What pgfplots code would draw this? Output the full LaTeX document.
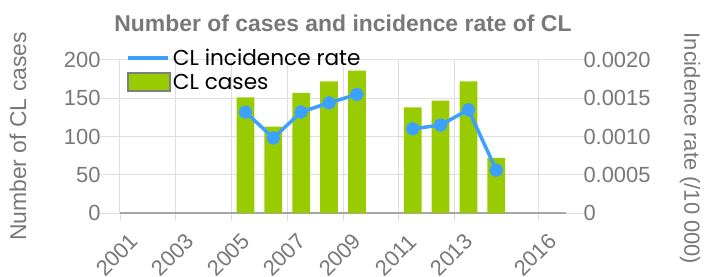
\documentclass[border=0pt]{standalone}
\usepackage{pgfplots}
\pgfplotsset{compat=1.18}
\usepackage{fontspec}
\setmainfont{Liberation Sans}
\newfontfamily\legfont{Poppins}
\definecolor{barg}{RGB}{153,204,0}
\definecolor{lineb}{RGB}{61,160,255}
\definecolor{txt}{RGB}{120,120,120}
\definecolor{gridc}{RGB}{222,222,222}
\begin{document}
\begin{tikzpicture}
\useasboundingbox (-120bp,-64bp) rectangle (597bp,213bp);
% x tick marks (short)
\begin{axis}[
  at={(0,0)}, anchor=south west,
  scale only axis, width=446bp, height=153bp,
  xmin=0, xmax=16, ymin=0, ymax=200,
  axis x line*=bottom, hide y axis,
  x axis line style={draw=none},
  tick align=outside, major tick length=8bp,
  xtick={0,2,4,6,8,10,12,15}, xticklabels={},
  x tick style={draw=gridc, line width=1bp},
]
\end{axis}
\begin{axis}[
  at={(0,0)}, anchor=south west,
  scale only axis, width=446bp, height=153bp,
  xmin=0, xmax=16, ymin=0, ymax=200,
  axis x line*=bottom, axis y line*=left,
  x axis line style={draw=gray!70, line width=1.5bp, -},
  y axis line style={draw=none},
  tick align=outside,
  xtick={0,2,4,6,8,10,12,15},
  xticklabels={2001,2003,2005,2007,2009,2011,2013,2016},
  ytick={0,50,100,150,200},
  major tick length=20bp,
  x tick style={draw=none},
  y tick style={draw=gridc, line width=1bp},
  xmajorgrids, ymajorgrids,
  grid style={draw=gridc, line width=1bp},
  ticklabel style={font=\fontsize{22}{24}\selectfont, text=txt},
  /pgf/number format/assume math mode=true,
  xticklabel style={anchor=center, xshift=-3bp, yshift=-22bp, rotate=45},
  yticklabel style={xshift=4bp},
  ylabel={Number of CL cases},
  ylabel style={at={(axis description cs:-0.2287,0.5)}, anchor=center, font=\fontsize{23}{25}\selectfont, text=txt},
  title={Number of cases and incidence rate of CL},
  title style={at={(0.5,1)}, anchor=center, yshift=31bp, font=\bfseries\fontsize{23}{25}\selectfont, text=txt},
  clip=false,
]
\addplot[ybar, bar width=17.8bp, fill=barg, draw=none] coordinates {
 (4.5,151) (5.5,113) (6.5,157) (7.5,172) (8.5,186)
 (10.5,138) (11.5,147) (12.5,172) (13.5,72)
};
\end{axis}
\begin{axis}[
  at={(0,0)}, anchor=south west,
  scale only axis, width=446bp, height=153bp,
  xmin=0, xmax=16, ymin=0, ymax=0.002,
  axis x line=none, axis y line*=right,
  y axis line style={draw=none},
  tick align=outside,
  ytick={0,0.0005,0.001,0.0015,0.002},
  yticklabels={0,0.0005,0.0010,0.0015,0.0020},
  major tick length=18bp,
  y tick style={draw=gridc, line width=1bp},
  scaled y ticks=false,
  ticklabel style={font=\fontsize{22}{24}\selectfont, text=txt},
  yticklabel style={xshift=-4bp},
  ylabel={Incidence rate (/10 000)},
  ylabel style={at={(axis description cs:1.278,0.4216)}, anchor=center, rotate=180, font=\fontsize{22}{24}\selectfont, text=txt},
  legend style={at={(0.009,1.10)}, anchor=north west, draw=none, fill=none,
    font=\legfont\fontsize{21.7}{24}\selectfont, row sep=3bp, inner sep=2bp},
  legend cell align=left,
  clip=false,
]
\addplot[lineb, line width=3.5bp, mark=*, mark size=5bp, unbounded coords=jump,
  legend image code/.code={\draw[lineb, line width=4bp] (0bp,0bp) -- (40bp,0bp);}] coordinates {
 (4.5,0.00132) (5.5,0.00098) (6.5,0.00132) (7.5,0.00144) (8.5,0.00155)
 (9.5,nan)
 (10.5,0.00110) (11.5,0.00115) (12.5,0.00135) (13.5,0.00056)
};
\addlegendentry{CL incidence rate}
\addlegendimage{legend image code/.code={\draw[fill=barg, draw=gray, line width=1.5bp] (0bp,-9bp) rectangle (42bp,9bp);}}
\addlegendentry{CL cases}
\end{axis}
\end{tikzpicture}
\end{document}
